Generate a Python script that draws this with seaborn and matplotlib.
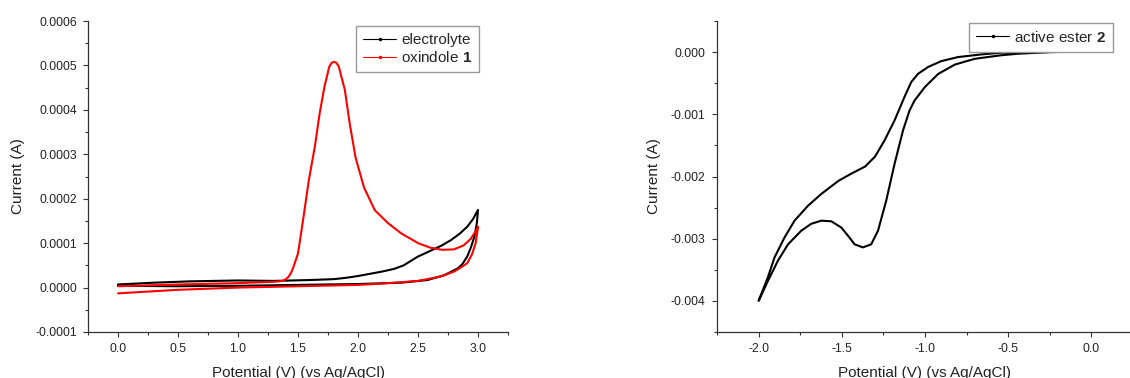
import matplotlib
matplotlib.use("Agg")
import matplotlib.pyplot as plt
import numpy as np
import pandas as pd
import seaborn as sns
from matplotlib.lines import Line2D
from matplotlib.ticker import MultipleLocator, FuncFormatter

# ---- left panel: electrolyte vs oxindole 1 (current in 1e-4 A) ----
el_fwd_v = [0.0, 0.5, 1.0, 1.5, 2.0, 2.36, 2.58, 2.72, 2.83, 2.87, 2.91, 2.94, 2.97, 2.99, 3.0]
el_fwd_i = [0.04, 0.03, 0.04, 0.06, 0.08, 0.11, 0.17, 0.28, 0.43, 0.53, 0.70, 0.90, 1.15, 1.45, 1.75]
el_rev_v = [3.0, 2.96, 2.91, 2.85, 2.775, 2.7, 2.62, 2.55, 2.5, 2.44, 2.38, 2.3, 2.2, 2.1,
            2.0, 1.9, 1.8, 1.6, 1.3, 1.0, 0.6, 0.3, 0.0]
el_rev_i = [1.75, 1.55, 1.37, 1.22, 1.07, 0.95, 0.85, 0.76, 0.70, 0.60, 0.50, 0.42, 0.36, 0.31,
            0.26, 0.22, 0.19, 0.17, 0.15, 0.16, 0.14, 0.11, 0.07]

ox_fwd_v = [0.0, 0.5, 1.0, 1.3, 1.37, 1.40, 1.42, 1.44, 1.46, 1.50, 1.55, 1.59, 1.64, 1.68,
            1.72, 1.76, 1.78, 1.80, 1.82, 1.84, 1.89, 1.93, 1.98, 2.05, 2.14, 2.25, 2.36,
            2.5, 2.6, 2.7, 2.8, 2.88, 2.94, 2.98, 3.0]
ox_fwd_i = [0.03, 0.07, 0.10, 0.13, 0.15, 0.19, 0.24, 0.32, 0.45, 0.77, 1.67, 2.42, 3.17, 3.92,
            4.52, 4.97, 5.06, 5.08, 5.06, 4.97, 4.45, 3.70, 2.92, 2.25, 1.74, 1.45, 1.22,
            1.00, 0.90, 0.85, 0.86, 0.95, 1.10, 1.27, 1.37]
ox_rev_v = [3.0, 2.98, 2.95, 2.91, 2.85, 2.8, 2.69, 2.5, 2.2, 2.0, 1.5, 1.0, 0.5, 0.0]
ox_rev_i = [1.37, 1.0, 0.75, 0.55, 0.44, 0.36, 0.25, 0.15, 0.09, 0.06, 0.03, 0.0, -0.05, -0.13]

# ---- right panel: active ester 2 (current in 1e-3 A) ----
es_fwd_v = [0.0, -0.24, -0.44, -0.54, -0.70, -0.82, -0.92, -1.0, -1.063, -1.093, -1.132,
            -1.183, -1.233, -1.282, -1.323, -1.373, -1.423, -1.463, -1.503, -1.563, -1.623,
            -1.683, -1.743, -1.823, -1.883, -1.944, -2.0]
es_fwd_i = [0.015, 0.0, -0.026, -0.05, -0.107, -0.20, -0.35, -0.56, -0.78, -0.94, -1.26,
            -1.80, -2.39, -2.87, -3.09, -3.14, -3.09, -2.95, -2.82, -2.72, -2.71,
            -2.76, -2.87, -3.09, -3.35, -3.68, -4.0]
es_rev_v = [-2.0, -1.944, -1.904, -1.844, -1.784, -1.703, -1.623, -1.52, -1.44, -1.36,
            -1.30, -1.243, -1.183, -1.123, -1.082, -1.042, -0.982, -0.902, -0.802, -0.662,
            -0.541, -0.34, -0.15, 0.0]
es_rev_i = [-4.0, -3.62, -3.30, -2.98, -2.71, -2.47, -2.28, -2.07, -1.95, -1.84,
            -1.68, -1.42, -1.10, -0.72, -0.48, -0.35, -0.24, -0.145, -0.08, -0.037,
            -0.01, 0.005, 0.015, 0.02]

xlabel = "Potential (V) (vs Ag/AgCl)"
ylabel = "Current (A)"

sns.set_theme(style="ticks")
plt.rcParams["font.family"] = ["Liberation Sans", "DejaVu Sans"]
plt.rcParams["mathtext.fontset"] = "custom"
plt.rcParams["mathtext.rm"] = "Liberation Sans"
plt.rcParams["mathtext.bf"] = "Liberation Sans:bold"


def loop(v1, i1, v2, i2, scale):
    return pd.DataFrame({"V": list(v1) + list(v2),
                         "I": [i * scale for i in list(i1) + list(i2)]})


def fmt(nd):
    def f(v, p):
        if abs(v) < 1e-12:
            v = 0.0
        return f"{v:.{nd}f}"
    return FuncFormatter(f)


def style(ax):
    sns.despine(ax=ax)
    for s in ("left", "bottom"):
        ax.spines[s].set_linewidth(0.9)
        ax.spines[s].set_color("#333333")
    ax.tick_params(which="major", direction="out", length=3.6, width=0.8,
                   labelsize=8.7, colors="#333333", labelcolor="#222222", pad=4.5)
    ax.tick_params(which="minor", direction="out", length=2.2, width=0.8, colors="#333333")
    ax.set_xlabel(xlabel, fontsize=11, color="#222222")
    ax.set_ylabel(ylabel, fontsize=11, color="#222222")


fig = plt.figure(figsize=(11.3, 3.78), dpi=100)
ax1 = fig.add_axes([0.0779, 0.1217, 0.3717, 0.8227])
ax2 = fig.add_axes([0.6345, 0.1217, 0.3681, 0.8227])

el = loop(el_fwd_v, el_fwd_i, el_rev_v, el_rev_i, 1e-4)
ox = loop(ox_fwd_v, ox_fwd_i, ox_rev_v, ox_rev_i, 1e-4)
es = loop(es_fwd_v, es_fwd_i, es_rev_v, es_rev_i, 1e-3)

sns.lineplot(data=el, x="V", y="I", sort=False, estimator=None, color="black",
             linewidth=1.5, ax=ax1)
sns.lineplot(data=ox, x="V", y="I", sort=False, estimator=None, color="#ff0000",
             linewidth=1.5, ax=ax1)
sns.lineplot(data=es, x="V", y="I", sort=False, estimator=None, color="black",
             linewidth=1.5, ax=ax2)
for ax in (ax1, ax2):
    for ln in ax.get_lines():
        ln.set_solid_joinstyle("round")

ax1.set_xlim(-0.25, 3.25)
ax1.set_ylim(-0.0001, 0.0006)
ax1.xaxis.set_major_locator(MultipleLocator(0.5))
ax1.xaxis.set_minor_locator(MultipleLocator(0.25))
ax1.yaxis.set_major_locator(MultipleLocator(0.0001))
ax1.yaxis.set_minor_locator(MultipleLocator(0.00005))
ax1.xaxis.set_major_formatter(fmt(1))
ax1.yaxis.set_major_formatter(fmt(4))

ax2.set_xlim(-2.25, 0.25)
ax2.set_ylim(-0.0045, 0.0005)
ax2.xaxis.set_major_locator(MultipleLocator(0.5))
ax2.xaxis.set_minor_locator(MultipleLocator(0.25))
ax2.yaxis.set_major_locator(MultipleLocator(0.001))
ax2.yaxis.set_minor_locator(MultipleLocator(0.0005))
ax2.xaxis.set_major_formatter(fmt(1))
ax2.yaxis.set_major_formatter(fmt(3))

for ax in (ax1, ax2):
    style(ax)
    ax.xaxis.set_label_coords(0.5, -0.11)
ax1.yaxis.set_label_coords(-0.150, 0.5)
ax2.yaxis.set_label_coords(-0.135, 0.5)

leg_kw = dict(fontsize=11, frameon=True, fancybox=False, borderaxespad=0,
              handlelength=2.2, handletextpad=0.3, borderpad=0.45, labelspacing=0.2,
              edgecolor="#999999", framealpha=1, loc="upper right")
h1 = [Line2D([], [], color="black", lw=0.8, marker=".", ms=3),
      Line2D([], [], color="#ff0000", lw=0.8, marker=".", ms=3)]
lg1 = ax1.legend(h1, ["electrolyte", r"oxindole $\mathbf{1}$"],
                 bbox_to_anchor=(0.931, 0.984), **leg_kw)
h2 = [Line2D([], [], color="black", lw=0.8, marker=".", ms=3)]
lg2 = ax2.legend(h2, [r"active ester $\mathbf{2}$"],
                 bbox_to_anchor=(0.952, 0.994), **leg_kw)
for lg in (lg1, lg2):
    lg.get_frame().set_linewidth(1.0)

fig.savefig("out.png", dpi=100)
